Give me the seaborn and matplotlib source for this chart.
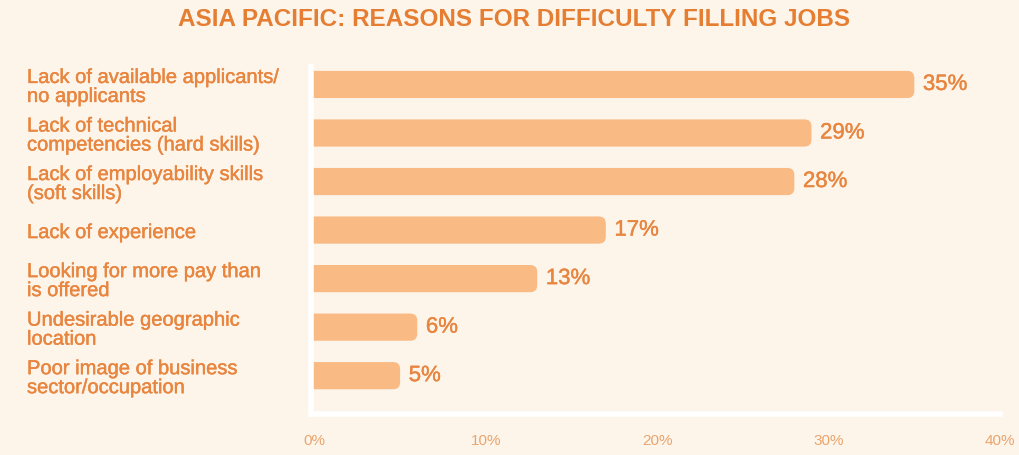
import matplotlib
matplotlib.use("Agg")
import matplotlib.pyplot as plt
from matplotlib.patches import FancyBboxPatch
import matplotlib.patheffects as pe
import seaborn as sns
import pandas as pd

reasons = [
    "Lack of available applicants/\nno applicants",
    "Lack of technical\ncompetencies (hard skills)",
    "Lack of employability skills\n(soft skills)",
    "Lack of experience",
    "Looking for more pay than\nis offered",
    "Undesirable geographic\nlocation",
    "Poor image of business\nsector/occupation",
]
shares = [35, 29, 28, 17, 13, 6, 5]
x_ticks = [0, 10, 20, 30, 40]
x_tick_labels = ["0%", "10%", "20%", "30%", "40%"]

BG = "#FDF5EA"
BAR = "#F9BA84"
TEXT = "#E8853F"
TITLE = "#E57E33"
TICK = "#E9A56E"

sns.set_theme(style="white")
plt.rcParams["font.family"] = ["Liberation Sans", "DejaVu Sans"]

df = pd.DataFrame({"reason": reasons, "share": shares})

fig = plt.figure(figsize=(10.2, 4.56), dpi=100, facecolor=BG)
ax = fig.add_axes([0.3049, 0.0899, 0.6755, 0.7610])
ax.set_facecolor(BG)

sns.barplot(data=df, x="share", y="reason", orient="h", color=BAR,
            width=0.56, saturation=1, ax=ax)

ax.set_xlim(-0.2, 40)
ax.set_ylim(6.79, -0.36)
fig.canvas.draw()
px_per_x = ax.transData.transform((1, 0))[0] - ax.transData.transform((0, 0))[0]
px_per_y = abs(ax.transData.transform((0, 1))[1] - ax.transData.transform((0, 0))[1])

heavier = [pe.withStroke(linewidth=0.3, foreground=TEXT)]

# swap plain rectangles for bars with rounded right ends
radius_px = 7
for patch in list(ax.patches):
    x0, y0 = patch.get_x(), patch.get_y()
    w, h = patch.get_width(), patch.get_height()
    patch.remove()
    ext = 2.0
    rounded = FancyBboxPatch(
        (x0 - ext, y0), w + ext, h,
        boxstyle=f"round,pad=0,rounding_size={radius_px / px_per_x}",
        mutation_aspect=(px_per_x / px_per_y),
        facecolor=BAR, edgecolor="none", zorder=2,
    )
    ax.add_patch(rounded)
    rounded.set_clip_path(ax.patch)
    ax.text(x0 + w + 0.5, y0 + h / 2, f"{int(w)}%", va="center", ha="left",
            fontsize=16, color=TEXT, zorder=3, path_effects=heavier)

ax.set_xticks(x_ticks)
ax.set_xticklabels(x_tick_labels)
ax.tick_params(axis="x", length=0, pad=14, labelsize=11, labelcolor=TICK)
ax.tick_params(axis="y", length=0)
ax.set_yticklabels([])
ax.set_xlabel("")
ax.set_ylabel("")

for side in ("top", "right"):
    ax.spines[side].set_visible(False)
for side in ("left", "bottom"):
    ax.spines[side].set_color("white")
    ax.spines[side].set_linewidth(4)

# left-aligned category labels
for i, label in enumerate(reasons):
    y_fig = ax.transData.transform((0, i))[1] - 2.5
    fig.text(27 / 1020, y_fig / 456, label, ha="left", va="center",
             fontsize=14.5, color=TEXT, linespacing=1.0, path_effects=heavier)

fig.text(0.504, 0.958, "ASIA PACIFIC: REASONS FOR DIFFICULTY FILLING JOBS",
         ha="center", va="center", fontsize=17.5, fontweight="bold", color=TITLE)

fig.savefig("out.png", dpi=100, facecolor=BG)
